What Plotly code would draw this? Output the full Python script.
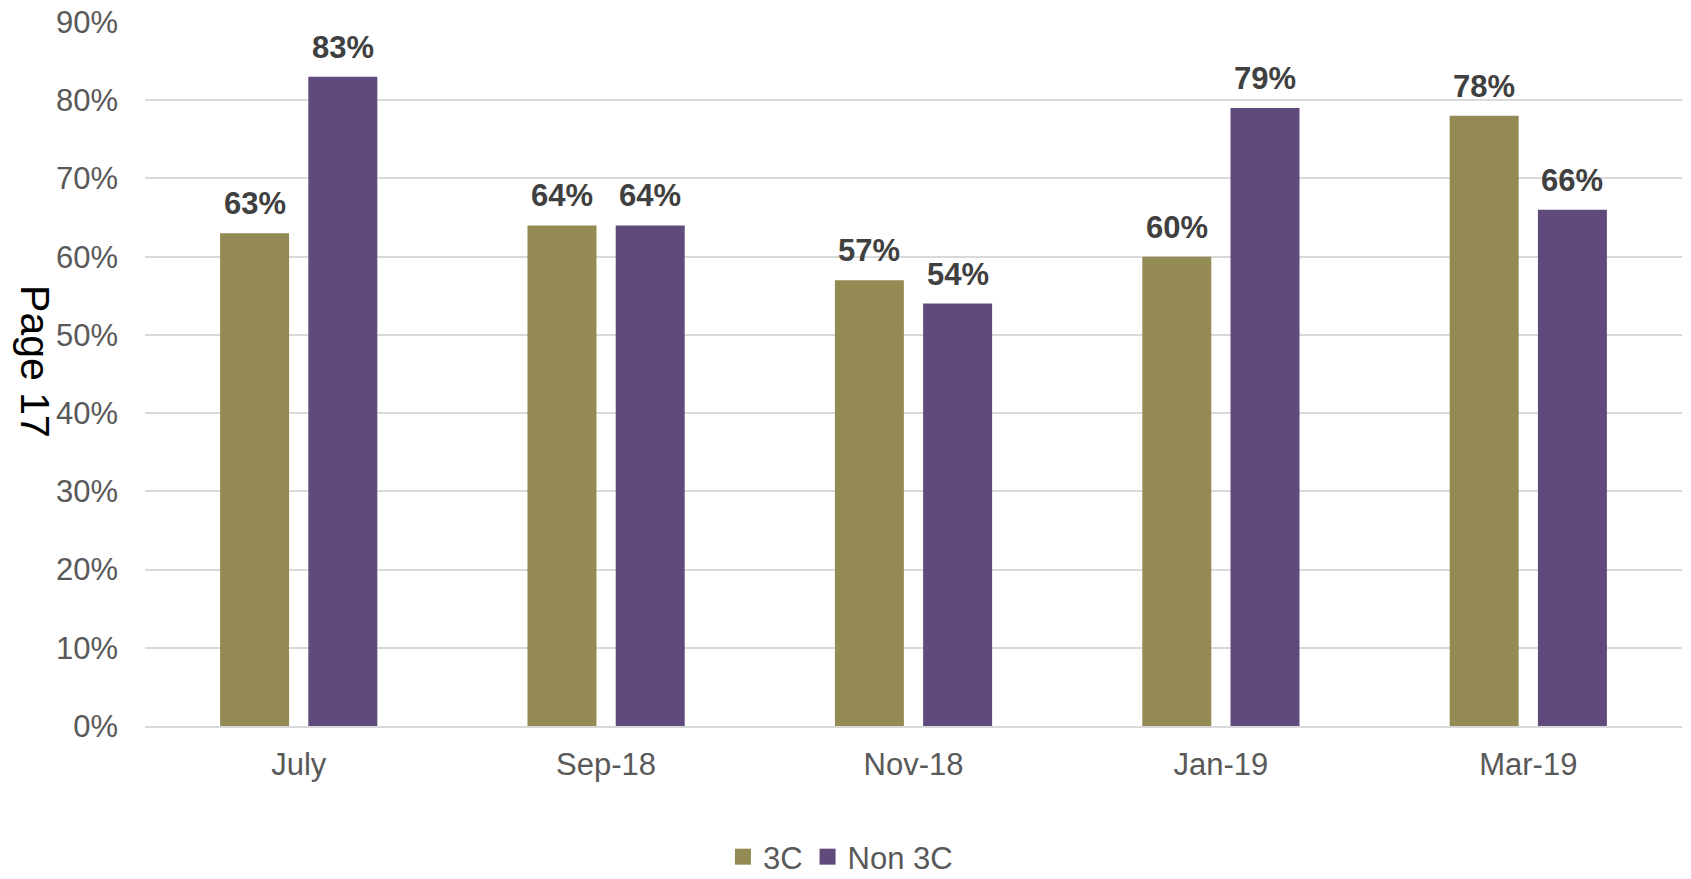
import plotly.graph_objects as go

categories = ["July", "Sep-18", "Nov-18", "Jan-19", "Mar-19"]
series_names = ["3C", "Non 3C"]
values_3c = [63, 64, 57, 60, 78]
values_non3c = [83, 64, 54, 79, 66]
y_ticks = [0, 10, 20, 30, 40, 50, 60, 70, 80, 90]

colors = ["#948A54", "#604A7B"]
FONT = "Liberation Sans, Arial, sans-serif"
BARGAP = 0.426
BARGROUPGAP = 0.218

fig = go.Figure()
for name, vals, col in zip(series_names, [values_3c, values_non3c], colors):
    fig.add_trace(go.Bar(x=categories, y=vals, name=name, marker_color=col,
                         marker_line_width=0, showlegend=False, hoverinfo="skip"))
    # legend proxy with square marker
    fig.add_trace(go.Scatter(x=[None], y=[None], mode="markers", name=name,
                             marker=dict(symbol="square", size=16, color=col)))

# data labels
offset = (1 - BARGAP) / 4
for si, vals in enumerate([values_3c, values_non3c]):
    sign = -1 if si == 0 else 1
    for i, v in enumerate(vals):
        fig.add_annotation(x=i + sign * offset, y=v, xref="x", yref="y",
                           text=f"<b>{v}%</b>", showarrow=False,
                           yanchor="bottom", yshift=10,
                           font=dict(family=FONT, size=31, color="#404040"))

fig.add_annotation(text="Page 17", xref="paper", yref="paper", x=-0.0716, y=0.517,
                   xanchor="center", yanchor="middle", textangle=90, showarrow=False,
                   font=dict(family=FONT, size=41, color="#000000"))

fig.update_layout(
    width=1691, height=879,
    margin=dict(l=145, r=9, t=22, b=153, autoexpand=False),
    paper_bgcolor="white", plot_bgcolor="white",
    barmode="group", bargap=BARGAP, bargroupgap=BARGROUPGAP,
    font=dict(family=FONT, size=31, color="#595959"),
    legend=dict(orientation="h", x=0.497, xref="container", xanchor="center",
                y=0.025, yref="container", yanchor="middle",
                font=dict(family=FONT, size=31, color="#595959"), itemsizing="trace"),
    xaxis=dict(type="category", showgrid=False, showline=True, linecolor="#d9d9d9",
               linewidth=1.5, ticks="", tickfont=dict(size=31, color="#595959"),
               ticklabelstandoff=10, automargin=False),
    yaxis=dict(range=[0, 90], tickvals=y_ticks, ticktext=[f"{t}%" for t in y_ticks],
               showgrid=True, gridcolor="#d9d9d9", gridwidth=1.5, zeroline=False,
               showline=False, ticks="", tickfont=dict(size=31, color="#595959"),
               ticklabelstandoff=26, automargin=False),
)

fig.write_html("out.html")
